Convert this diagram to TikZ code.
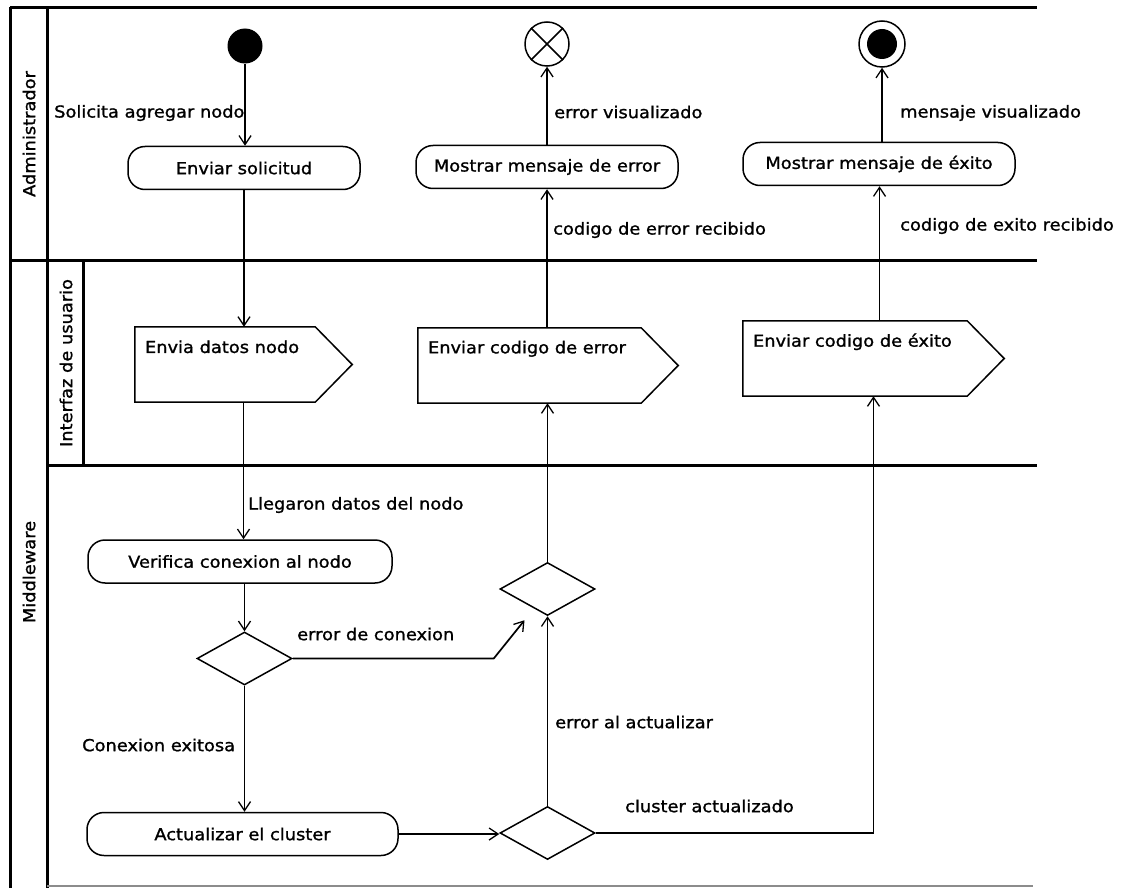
\documentclass[tikz,border=0pt]{standalone}
\usepackage{fontspec}
\setmainfont{DejaVu Sans}[FakeStretch=1.08,FakeBold=1.2]
\usetikzlibrary{arrows.meta,shapes.geometric,calc}

\begin{document}
\begin{tikzpicture}[x=1pt,y=-1pt,
  every node/.style={font=\fontsize{16.5}{19}\selectfont},
  lane/.style={line width=3pt},
  flow/.style={line width=1.7pt,-{Straight Barb[length=9pt,width=12pt,line width=1.3pt]}},
  action/.style={draw,line width=1.5pt,rounded corners=17pt,minimum height=43pt,inner sep=0pt},
  choice/.style={draw,diamond,line width=1.5pt,minimum width=95pt,minimum height=53pt,inner sep=0pt},
  sigbox/.style={minimum height=75pt,inner sep=0pt},
  sigline/.style={line width=1.5pt},
  lbl/.style={anchor=west,inner sep=0pt},
  lanelabel/.style={rotate=90,inner sep=0pt}
]
\useasboundingbox (0,0) rectangle (1128,888);

% swimlane frame
\draw[lane] (10,8) -- (1037,8);
\draw[lane] (10,260) -- (1037,260);
\draw[lane] (47,465) -- (1037,465);
\draw[lane] (10,7) -- (10,888);
\draw[lane] (47,7) -- (47,888);
\draw[lane] (83,260) -- (83,465);
\draw[line width=2pt,black!45] (47,886) -- (1033,886);

\node[lanelabel] at (29,134) {Administrador};
\node[lanelabel] at (66,363) {Interfaz de usuario};
\node[lanelabel] at (29,572) {Middleware};

% Administrador
\node[circle,fill=black,minimum size=35pt,inner sep=0pt] (start) at (245,46) {};
\node[action,minimum width=232pt] (send) at (244,168) {Enviar solicitud};
\node[action,minimum width=262pt] (showerr) at (547,167) {Mostrar mensaje de error};
\node[action,minimum width=272pt] (showok) at (879,164) {Mostrar mensaje de éxito};
\node[circle,draw,line width=1.5pt,minimum size=44pt,inner sep=0pt] (errend) at (547,44) {};
\draw[line width=1.5pt] (errend.north west) -- (errend.south east)
                        (errend.north east) -- (errend.south west);
\node[circle,draw,line width=1.5pt,minimum size=46pt,inner sep=0pt] (fin) at (882,44) {};
\node[circle,fill=black,minimum size=30pt,inner sep=0pt] (findot) at (fin) {};

% Interfaz de usuario: send-signal actions
\node[sigbox,minimum width=217pt] (s1) at (243.5,364.5) {};
\node[sigbox,minimum width=260pt] (s2) at (548,365.5) {};
\node[sigbox,minimum width=261pt] (s3) at (873.5,358.5) {};
\foreach \s in {s1,s2,s3}{
  \draw[sigline] (\s.north west) -- ([xshift=-37pt]\s.north east) -- (\s.east)
        -- ([xshift=-37pt]\s.south east) -- (\s.south west) -- cycle;
}
\node[lbl] (s1t) at ([xshift=10pt,yshift=-20pt]s1.north west) {Envia datos nodo};
\node[lbl] (s2t) at ([xshift=10pt,yshift=-21pt]s2.north west) {Enviar codigo de error};
\node[lbl] (s3t) at ([xshift=10pt,yshift=-21pt]s3.north west) {Enviar codigo de éxito};

% Middleware
\node[action,minimum width=304pt] (verify) at (240,561.5) {Verifica conexion al nodo};
\node[choice] (d1) at (244.5,658.5) {};
\node[choice] (d2) at (547.5,589) {};
\node[action,minimum width=311pt] (update) at (242.5,834) {Actualizar el cluster};
\node[choice] (d3) at (547.5,833) {};
\coordinate (d2in) at ([xshift=-23pt,yshift=-4pt]d2.south);

% control flows
\draw[flow] (start.south) -- (start.south |- send.north);
\node[lbl] (l1) at (54,113) {Solicita agregar nodo};
\draw[flow] (send.south) -- (send.south |- s1.north);
\draw[flow] (s1.south) -- (s1.south |- verify.north);
\node[lbl] (l2) at (248,505) {Llegaron datos del nodo};
\draw[flow] (d1.north |- verify.south) -- (d1.north);
\draw[flow] (d1.south) -- (d1.south |- update.north);
\node[lbl] (l3) at (82,745) {Conexion exitosa};
\draw[flow] (d1.east) -- ++(201pt,0) -- (d2in);
\node[lbl] (l4) at (297,634) {error de conexion};
\draw[flow] (update.east) -- (update.east -| d3.west);
\draw[flow] (d3.north) -- (d2.south);
\node[lbl] (l5) at (555,722) {error al actualizar};
\draw[flow] (d2.north) -- (d2.north |- s2.south);
\draw[flow] (s2.north -| showerr.south) -- (showerr.south);
\node[lbl] (l6) at (553,230) {codigo de error recibido};
\draw[flow] (showerr.north) -- (errend.south);
\node[lbl] (l7) at (554,112) {error visualizado};
\draw[flow] (d3.east) -| (s3.south);
\node[lbl] (l8) at (625,806) {cluster actualizado};
\draw[flow] ([xshift=6pt]s3.north) -- ([xshift=6pt]s3.north |- showok.south);
\node[lbl] (l9) at (900,226) {codigo de exito recibido};
\draw[flow] (fin.south |- showok.north) -- (fin.south);
\node[lbl] (l10) at (900,113) {mensaje visualizado};
\end{tikzpicture}
\end{document}
